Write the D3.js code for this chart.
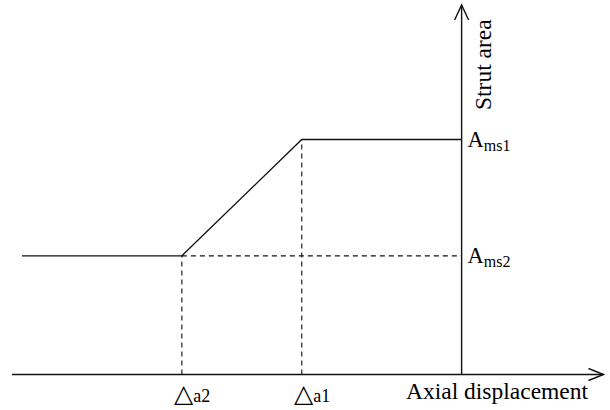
<!DOCTYPE html>
<html><head><meta charset="utf-8">
<script src="https://cdn.jsdelivr.net/npm/d3@7"></script>
<style>body{margin:0;background:#fff}svg{display:block}</style>
</head><body><svg id="c" width="610" height="410"></svg>
<script>
// Data (abstract units)
const curveX = [-11, -7, -4, 0];        // axial displacement
const curveY = [1.01, 1.01, 2, 2];      // strut area
const xMarks = [-7, -4];                // Δa2, Δa1
const xMarkLabels = ["a2", "a1"];
const yMarks = [2, 1.01];               // Ams1, Ams2
const yMarkLabels = ["ms1", "ms2"];
const xAxisTitle = "Axial displacement";
const yAxisTitle = "Strut area";

const FONT = "'Liberation Serif', 'Times New Roman', Times, serif";
const svg = d3.select("#c");
const x = d3.scaleLinear().domain([-11.25, 3.55]).range([12, 603.5]);
const y = d3.scaleLinear().domain([0, 2]).range([374.5, 139.5]);
const x0 = x(0), y0 = y(0);
const ink = "#111";

// dashed guides
const g = svg.append("g").attr("stroke", ink).attr("stroke-width", 1.1).attr("stroke-dasharray", "5,4").attr("fill", "none");
xMarks.forEach((v, i) => {
  g.append("line").attr("x1", x(v)).attr("x2", x(v)).attr("y1", y0).attr("y2", y(curveY[i + 1]));
});
g.append("line").attr("x1", x(xMarks[0])).attr("x2", x0).attr("y1", y(yMarks[1])).attr("y2", y(yMarks[1]));

// axes
const ax = svg.append("g").attr("stroke", ink).attr("stroke-width", 1.4).attr("fill", "none");
ax.append("line").attr("x1", x(-11.25)).attr("x2", x(3.55)).attr("y1", y0).attr("y2", y0);
ax.append("line").attr("x1", x0).attr("x2", x0).attr("y1", y0).attr("y2", y(3.145));
const tipX = x(3.55), tipY = y(3.145);
ax.append("path").attr("d", `M${tipX-15},${y0-6}L${tipX},${y0}L${tipX-15},${y0+6}`);
ax.append("path").attr("d", `M${x0-7},${tipY+15}L${x0},${tipY}L${x0+7},${tipY+15}`);

// curve
svg.append("path")
  .attr("d", d3.line().x((d, i) => x(curveX[i])).y(d => y(d))(curveY))
  .attr("fill", "none").attr("stroke", ink).attr("stroke-width", 1.3);

// x mark labels
xMarks.forEach((v, i) => {
  const t = svg.append("text").attr("x", x(v) - 7.5).attr("y", 402).attr("font-family", FONT).attr("font-size", 22);
  t.append("tspan").text("△").attr("font-size", 25);
  t.append("tspan").text(xMarkLabels[i]).attr("font-size", 18);
});
// y mark labels
yMarks.forEach((v, i) => {
  const t = svg.append("text").attr("x", x0 + 6).attr("y", y(v) + 7).attr("font-family", FONT).attr("font-size", 22.5);
  t.append("tspan").text("A");
  t.append("tspan").text(yMarkLabels[i]).attr("font-size", 16).attr("dy", 4);
});
// titles
svg.append("text").attr("x", 406).attr("y", 399).attr("font-family", FONT).attr("font-size", 23.5).text(xAxisTitle);
svg.append("text").attr("transform", `translate(491,110) rotate(-90)`).attr("font-family", FONT).attr("font-size", 23.5).text(yAxisTitle);
</script></body></html>
